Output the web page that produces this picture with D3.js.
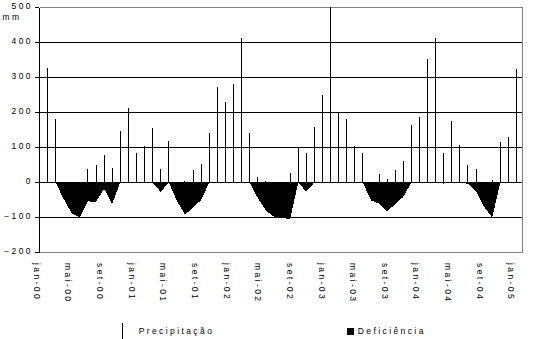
<!DOCTYPE html>
<html>
<head>
<meta charset="utf-8">
<script src="https://cdn.jsdelivr.net/npm/d3@7"></script>
<style>
  html, body { margin: 0; padding: 0; background: #fff; }
  svg { display: block; }
  text {
    font-family: "Liberation Sans", Arial, sans-serif;
    font-size: 8.5px;
    letter-spacing: 2.4px;
    fill: #000;
  }
</style>
</head>
<body>
<svg id="chart" width="533" height="339"></svg>
<script>
// Month names and years used to build the category labels
const monthAbbr = ["jan", "fev", "mar", "abr", "mai", "jun", "jul", "ago", "set", "out", "nov", "dez"];
const years = ["00", "01", "02", "03", "04", "05"];

// Monthly precipitation (mm), jan-00 onwards
const precipitation = [
  326, 181, 0, 0, 0, 37, 49, 78, 40, 146, 212, 84,
  104, 155, 37, 117, 0, 3, 34, 51, 140, 271, 229, 280,
  411, 140, 14, 3, 0, 0, 26, 100, 83, 157, 249, 500,
  197, 180, 103, 83, 0, 23, 9, 34, 60, 163, 186, 351,
  411, 83, 174, 106, 49, 37, 0, 6, 114, 129, 323
];

// Monthly water deficiency (mm, negative), same months
const deficiency = [
  0, 0, -47, -88, -99, -54, -55, -18, -61, 0, 0, 0,
  0, 0, -27, 0, -52, -92, -72, -50, 0, 0, 0, 0,
  0, 0, -44, -80, -98, -99, -106, 0, -26, 0, 0, 0,
  0, 0, 0, 0, -51, -60, -82, -62, -41, 0, 0, 0,
  0, -3, 0, 0, -4, -26, -70, -100, 0, 0, 0
];

const yTicks = [-200, -100, 0, 100, 200, 300, 400, 500];
const xTickLabels = [
  "jan-00", "mai-00", "set-00", "jan-01", "mai-01", "set-01",
  "jan-02", "mai-02", "set-02", "jan-03", "mai-03", "set-03",
  "jan-04", "mai-04", "set-04", "jan-05"
];

const calendar = years.flatMap(yy => monthAbbr.map(m => `${m}-${yy}`));
const dataMonths = calendar.slice(0, precipitation.length);
const axisMonths = calendar.slice(0, calendar.indexOf("jan-05") + 1);

const svg = d3.select("#chart");

const plotLeft = 39, plotRight = 522;
const x = d3.scalePoint().domain(dataMonths).range([47.5, 516.5]);
const xAxisScale = d3.scalePoint().domain(axisMonths).range([36.3, 510.8]);
const y = d3.scaleLinear().domain([-200, 500]).range([252, 7]);

const crisp = v => Math.floor(v) + 0.5;

// Horizontal gridlines; the outer two act as the plot frame
svg.append("g")
  .selectAll("line")
  .data(yTicks)
  .join("line")
  .attr("x1", plotLeft + 0.5)
  .attr("x2", plotRight + 0.5)
  .attr("y1", d => y(d) + 0.5)
  .attr("y2", d => y(d) + 0.5)
  .attr("stroke", d => (d === 500 || d === -200) ? "#808080" : "#000")
  .attr("stroke-width", 1)
  .attr("shape-rendering", "crispEdges");

// Right frame edge
svg.append("line")
  .attr("x1", plotRight + 0.5).attr("x2", plotRight + 0.5)
  .attr("y1", y(500) + 0.5).attr("y2", y(-200) + 0.5)
  .attr("stroke", "#808080")
  .attr("shape-rendering", "crispEdges");

// Deficiency as a filled area below zero
const area = d3.area()
  .x((d, i) => x(dataMonths[i]))
  .y0(y(0) + 0.5)
  .y1(d => y(d) + 0.5);

svg.append("path")
  .datum(deficiency)
  .attr("d", area)
  .attr("fill", "#000")
  .attr("shape-rendering", "crispEdges");

// Precipitation as thin vertical bars
svg.append("g")
  .selectAll("line")
  .data(precipitation.map((v, i) => ({ month: dataMonths[i], value: v })).filter(d => d.value > 0))
  .join("line")
  .attr("x1", d => crisp(x(d.month)))
  .attr("x2", d => crisp(x(d.month)))
  .attr("y1", y(0) + 0.5)
  .attr("y2", d => y(d.value))
  .attr("stroke", "#000")
  .attr("stroke-width", 1)
  .attr("shape-rendering", "crispEdges");

// Y axis
const yAxis = svg.append("g")
  .attr("transform", `translate(${plotLeft},0)`)
  .call(d3.axisLeft(y).tickValues(yTicks).tickSize(4).tickSizeOuter(0).tickPadding(2));
yAxis.select(".domain").attr("stroke", "#000").attr("shape-rendering", "crispEdges");
yAxis.selectAll(".tick line").attr("stroke", "#000").attr("shape-rendering", "crispEdges");
yAxis.selectAll("text")
  .attr("font-family", null).attr("font-size", null)
  .attr("dy", "0.2em");
yAxis.attr("font-family", null).attr("font-size", null);

// Unit label
svg.append("text").attr("x", 2.5).attr("y", 20).text("mm");

// X axis month labels, rotated
const xAxis = svg.append("g")
  .attr("transform", "translate(0,263)")
  .call(d3.axisBottom(xAxisScale).tickValues(xTickLabels).tickSize(0));
xAxis.attr("font-family", null).attr("font-size", null);
xAxis.select(".domain").remove();
xAxis.selectAll("text")
  .attr("transform", "rotate(90)")
  .attr("x", 0)
  .attr("y", 0)
  .attr("dy", "0.35em")
  .attr("text-anchor", "start");

// Legend
const legend = svg.append("g");
legend.append("line")
  .attr("x1", 122.5).attr("x2", 122.5)
  .attr("y1", 323).attr("y2", 339)
  .attr("stroke", "#000")
  .attr("shape-rendering", "crispEdges");
legend.append("text").attr("x", 138.7).attr("y", 334).text("Precipitação");
legend.append("rect")
  .attr("x", 347).attr("y", 328).attr("width", 7).attr("height", 7)
  .attr("fill", "#000");
legend.append("text").attr("x", 357.8).attr("y", 334).text("Deficiência");
</script>
</body>
</html>
